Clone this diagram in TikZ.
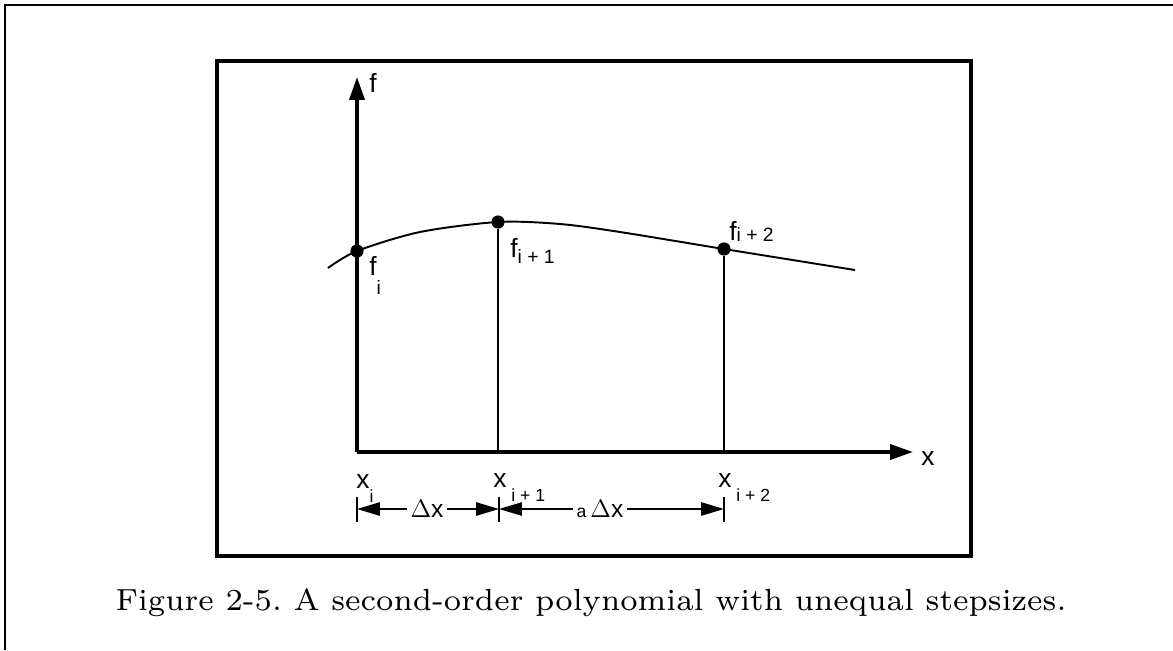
\documentclass[tikz,border=0pt]{standalone}
\usepackage{fontspec}
\newfontfamily\labelfont{Liberation Sans}
\newfontfamily\capfont{lmroman7-regular.otf}
\usetikzlibrary{arrows.meta, positioning, calc}

% lowered subscript in the label font
\newcommand{\lsub}[3][4pt]{\raisebox{-#1}{\fontsize{#2}{#2}\selectfont #3}}

\begin{document}
\begin{tikzpicture}[
    x=0.02cm, y=-0.02cm,
    frame/.style={line width=1.8pt},
    axis/.style={line width=2pt, -{Triangle[length=13pt, width=8.5pt]}},
    drop/.style={line width=1.1pt},
    curve/.style={line width=1.1pt},
    dot/.style={circle, fill=black, inner sep=0pt, minimum size=7.5pt},
    lbl/.style={font=\labelfont\fontsize{15}{18}\selectfont, inner sep=0pt, anchor=base west},
    dimlbl/.style={font=\labelfont\fontsize{14}{16}\selectfont, inner sep=2pt},
    tickmark/.style={line width=1.4pt},
    dim/.style={line width=1.1pt, -{Triangle[length=13pt, width=7.5pt]}}
]
\useasboundingbox (0,0) rectangle (1173,650);

% Outer page frame
\draw[line width=1.2pt] (5,650) -- (5,5) -- (1173,5);

% Figure box
\draw[frame] (217,61) rectangle (971,556);

% Axes
\coordinate (origin) at (357,452);
\coordinate (ytop) at (357,77);
\coordinate (xend) at (913,452);
\draw[axis] (origin) -- (ytop);
\draw[axis] (origin) -- (xend);
\node[lbl] (flab) at (369,92) {f};
\node[lbl] (xlab) at (921,465) {x};

% Polynomial
\draw[curve] plot[smooth, tension=0.5] coordinates
    {(328,268) (357,251) (420,232) (498,222) (560,224) (620,232) (724,249) (855,270)};

% Points
\node[dot] (p0) at (357,251) {};
\node[dot] (p1) at (498,222) {};
\node[dot] (p2) at (724,249) {};
\node[lbl] (f0) at (369,275) {f\lsub[11pt]{11}{i}};
\node[lbl] (f1) at (510,257) {f\lsub[3.5pt]{11}{i + 1}};
\node[lbl] (f2) at (729,240) {f\lsub[1pt]{11}{i + 2}};

% Drop lines
\coordinate (b1) at (498,452);
\coordinate (b2) at (724,452);
\draw[drop] (p1) -- (b1);
\draw[drop] (p2) -- (b2);

% Step labels
\node[lbl] (x0) at (356,488) {x\lsub[8pt]{10}{i}};
\node[lbl] (x1) at (493,487) {x\lsub[8pt]{10}{ i + 1}};
\node[lbl] (x2) at (718,487) {x\lsub[8pt]{10}{ i + 2}};

% Ticks
\coordinate (t0) at (357,509);
\coordinate (t1) at (499,509);
\coordinate (t2) at (724,509);
\foreach \t in {t0,t1,t2}
  \draw[tickmark] ($(\t)+(0,-12)$) -- ($(\t)+(0,13)$);

% Step sizes
\node[dimlbl] (dx) at (427,509) {$\Delta$x};
\node[dimlbl] (adx) at (600,509) {{\fontsize{10}{10}\selectfont a}\,$\Delta$x};
\draw[dim] (dx) -- (t0);
\draw[dim] (dx) -- (t1);
\draw[dim] (adx) -- (t1);
\draw[dim] (adx) -- (t2);

% Caption
\node[font=\capfont\fontsize{17.4}{21}\selectfont] (caption) at (591,603)
    {Figure 2-5.\ A second-order polynomial with unequal stepsizes.};

\end{tikzpicture}
\end{document}
